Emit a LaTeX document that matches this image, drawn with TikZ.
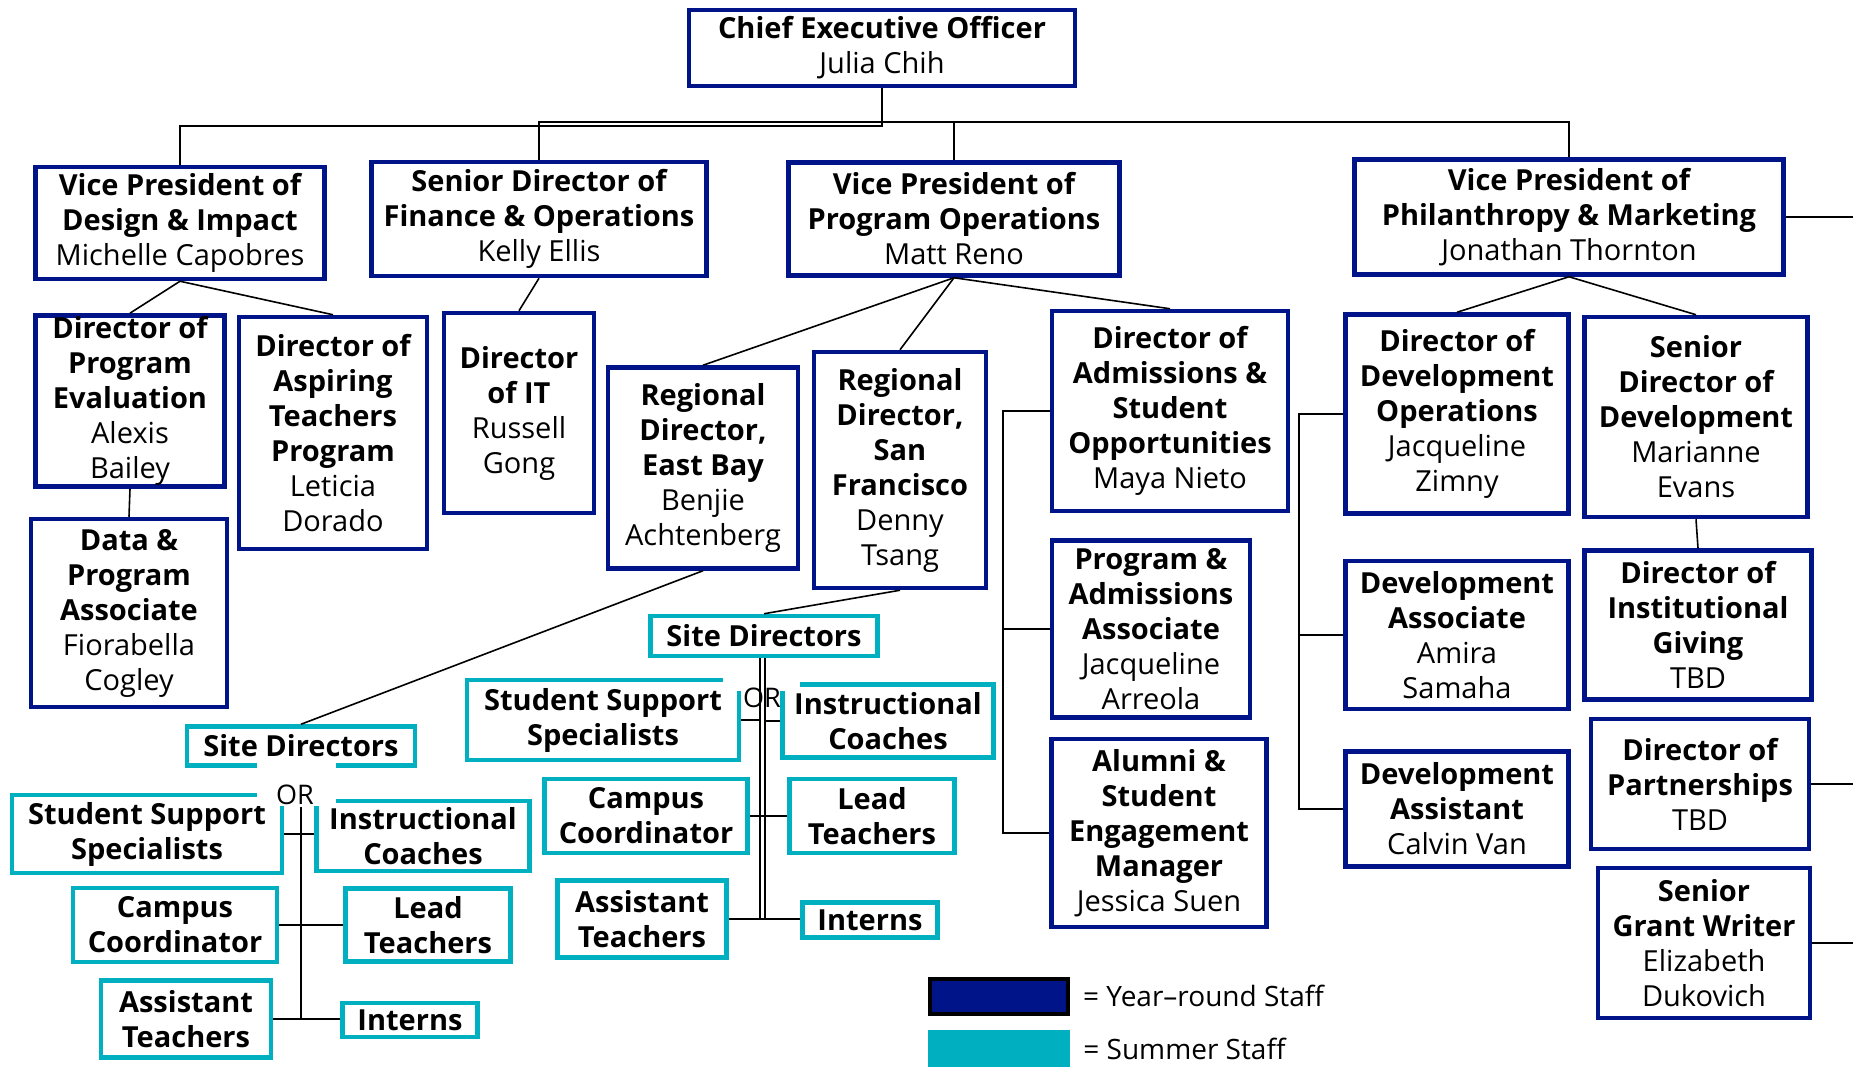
\documentclass[tikz,border=0pt]{standalone}
\usepackage{fontspec}
\setmainfont{Open Sans}
\usetikzlibrary{positioning}
\definecolor{yrblue}{RGB}{0,20,137}
\definecolor{sumteal}{RGB}{0,176,192}

\begin{document}
\begin{tikzpicture}[x=1pt,y=-1pt,
    yr/.style={draw=yrblue,line width=4.5pt,fill=white,align=center,inner sep=1pt,font=\fontsize{29}{35}\selectfont\bfseries},
    su/.style={draw=sumteal,line width=4.5pt,fill=white,align=center,inner sep=1pt,font=\fontsize{29}{35}\selectfont\bfseries},
    orlbl/.style={inner sep=0pt,font=\fontsize{27}{30}\selectfont},
    link/.style={draw=black,line width=1.6pt}]
    \useasboundingbox (0,0) rectangle (1853,1067);

    % year-round staff
    \node[yr,minimum width=386,minimum height=76] (ceo) at (882,48) {Chief Executive Officer\\\textmd{Julia Chih}};
    \node[yr,minimum width=289,minimum height=112] (vpd) at (180,223) {Vice President of\\Design \& Impact\\\textmd{Michelle Capobres}};
    \node[yr,minimum width=335,minimum height=114] (fin) at (539,219) {Senior Director of\\Finance \& Operations\\\textmd{Kelly Ellis}};
    \node[yr,minimum width=331,minimum height=113] (vpo) at (954,219) {Vice President of\\Program Operations\\\textmd{Matt Reno}};
    \node[yr,minimum width=429,minimum height=115] (vpp) at (1569,217) {Vice President of\\Philanthropy \& Marketing\\\textmd{Jonathan Thornton}};
    \node[yr,minimum width=189,minimum height=171] (dpe) at (130,401) {Director of\\Program\\Evaluation\\\textmd{Alexis}\\\textmd{Bailey}};
    \node[yr,minimum width=196,minimum height=188] (dpa) at (129,613) {Data \&\\Program\\Associate\\\textmd{Fiorabella}\\\textmd{Cogley}};
    \node[yr,minimum width=188,minimum height=232] (dat) at (333,433) {Director of\\Aspiring\\Teachers\\Program\\\textmd{Leticia}\\\textmd{Dorado}};
    \node[yr,minimum width=150,minimum height=200] (dit) at (519,413) {Director\\of IT\\\textmd{Russell}\\\textmd{Gong}};
    \node[yr,minimum width=190,minimum height=201] (rde) at (703,468) {Regional\\Director,\\East Bay\\\textmd{Benjie}\\\textmd{Achtenberg}};
    \node[yr,minimum width=172,minimum height=236] (rds) at (900,470) {Regional\\Director,\\San\\Francisco\\\textmd{Denny}\\\textmd{Tsang}};
    \node[yr,minimum width=236,minimum height=200] (das) at (1170,411) {Director of\\Admissions \&\\Student\\Opportunities\\\textmd{Maya Nieto}};
    \node[yr,minimum width=198,minimum height=177] (paa) at (1151,629) {Program \&\\Admissions\\Associate\\\textmd{Jacqueline}\\\textmd{Arreola}};
    \node[yr,minimum width=215,minimum height=188] (ase) at (1159,833) {Alumni \&\\Student\\Engagement\\Manager\\\textmd{Jessica Suen}};
    \node[yr,minimum width=223,minimum height=199] (ddo) at (1457,414) {Director of\\Development\\Operations\\\textmd{Jacqueline}\\\textmd{Zimny}};
    \node[yr,minimum width=223,minimum height=200] (sdd) at (1696,417) {Senior\\Director of\\Development\\\textmd{Marianne}\\\textmd{Evans}};
    \node[yr,minimum width=223,minimum height=148] (dva) at (1457,635) {Development\\Associate\\\textmd{Amira}\\\textmd{Samaha}};
    \node[yr,minimum width=227,minimum height=149] (dig) at (1698,625) {Director of\\Institutional\\Giving\\\textmd{TBD}};
    \node[yr,minimum width=223,minimum height=115] (dvs) at (1457,809) {Development\\Assistant\\\textmd{Calvin Van}};
    \node[yr,minimum width=218,minimum height=130] (dpt) at (1700,784) {Director of\\Partnerships\\\textmd{TBD}};
    \node[yr,minimum width=212,minimum height=150] (sgw) at (1704,943) {Senior\\Grant Writer\\\textmd{Elizabeth}\\\textmd{Dukovich}};

    % summer staff, San Francisco
    \node[su,minimum width=227,minimum height=40] (sds) at (764,636) {Site Directors};
    \node[su,minimum width=272,minimum height=80] (sss2) at (603,720) {Student Support\\Specialists};
    \node[su,minimum width=211,minimum height=73] (ics2) at (888,721) {Instructional\\Coaches};
    \node[su,minimum width=203,minimum height=74] (cc2) at (646,816) {Campus\\Coordinator};
    \node[su,minimum width=165,minimum height=74] (lt2) at (872,816) {Lead\\Teachers};
    \node[su,minimum width=169,minimum height=77] (at2) at (642,919) {Assistant\\Teachers};
    \node[su,minimum width=135,minimum height=35] (in2) at (870,920) {Interns};

    % summer staff, East Bay
    \node[su,minimum width=228,minimum height=39] (sde) at (301,746) {Site Directors};
    \node[su,minimum width=270,minimum height=78] (sss1) at (147,834) {Student Support\\Specialists};
    \node[su,minimum width=213,minimum height=70] (ics1) at (423,836) {Instructional\\Coaches};
    \node[su,minimum width=204,minimum height=74] (cc1) at (175,925) {Campus\\Coordinator};
    \node[su,minimum width=165,minimum height=73] (lt1) at (428,925) {Lead\\Teachers};
    \node[su,minimum width=170,minimum height=77] (at1) at (186,1019) {Assistant\\Teachers};
    \node[su,minimum width=135,minimum height=34] (in1) at (410,1020) {Interns};

    % gaps round the OR labels
    \fill[white] (723,668) rectangle (800,691);
    \fill[white] (257,762) rectangle (336,806);

    \coordinate (busa) at (882,126);
    \coordinate (busb) at (882,122);
    \coordinate (out1) at (1853,217);
    \coordinate (out2) at (1853,784);
    \coordinate (out3) at (1853,943);
    \coordinate (sfl) at (760,919);
    \coordinate (sfr) at (765,919);
    \coordinate (ebtop) at (301,807);
    \coordinate (ebbot) at (301,1019);

    \draw[link] (ceo.south) -- (busa) -| (vpd.north);
    \draw[link] (fin.north) |- (vpp.north |- busb) -- (vpp.north);
    \draw[link] (vpo.north) -- (vpo.north |- busb);
    \draw[link] (vpd.south) -- (dpe.north);
    \draw[link] (vpd.south) -- (dat.north);
    \draw[link] (dpe.south) -- (dpa.north);
    \draw[link] (fin.south) -- (dit.north);
    \draw[link] (vpo.south) -- (rde.north);
    \draw[link] (vpo.south) -- (rds.north);
    \draw[link] (vpo.south) -- (das.north);
    \draw[link] (das.west) -- ++(-47,0) |- (ase.west);
    \draw[link] (paa.west) -- ++(-48,0);
    \draw[link] (vpp.south) -- (ddo.north);
    \draw[link] (vpp.south) -- (sdd.north);
    \draw[link] (ddo.west) -- ++(-44,0) |- (dvs.west);
    \draw[link] (dva.west) -- ++(-44,0);
    \draw[link] (sdd.south) -- (dig.north);
    \draw[link] (vpp.east) -- (out1);
    \draw[link] (dpt.east) -- (out2);
    \draw[link] (sgw.east) -- (out3);
    \draw[link] (rde.south) -- (sde.north);
    \draw[link] (rds.south) -- (sds.north);

    \draw[link] (sfl |- sds.south) -- (sfl);
    \draw[link] (sfr |- sds.south) -- (sfr);
    \draw[link] (sss2.east) -- (sss2.east -| sfl);
    \draw[link] (ics2.west) -- (ics2.west -| sfr);
    \draw[link] (cc2.east) -- (cc2.east -| lt2.west);
    \draw[link] (at2.east) -- (at2.east -| in2.west);

    \draw[link] (ebtop) -- (ebbot);
    \draw[link] (sss1.east) -- (sss1.east -| ics1.west);
    \draw[link] (cc1.east) -- (cc1.east -| lt1.west);
    \draw[link] (at1.east) -- (at1.east -| in1.west);

    \node[orlbl] (or2) at (762,698) {OR};
    \node[orlbl] (or1) at (295,795) {OR};

    % legend
    \node[fill=yrblue,draw=black,line width=4pt,minimum width=138,minimum height=35,inner sep=0pt] (yrkey) at (999,996) {};
    \node[fill=sumteal,minimum width=142,minimum height=38,inner sep=0pt] (sukey) at (999,1049) {};
    \node[right=13pt of yrkey,inner sep=0pt,font=\fontsize{28}{32}\selectfont] (yrtxt) {= Year--round Staff};
    \node[right=13pt of sukey,inner sep=0pt,font=\fontsize{28}{32}\selectfont] (sutxt) {= Summer Staff};
\end{tikzpicture}
\end{document}
